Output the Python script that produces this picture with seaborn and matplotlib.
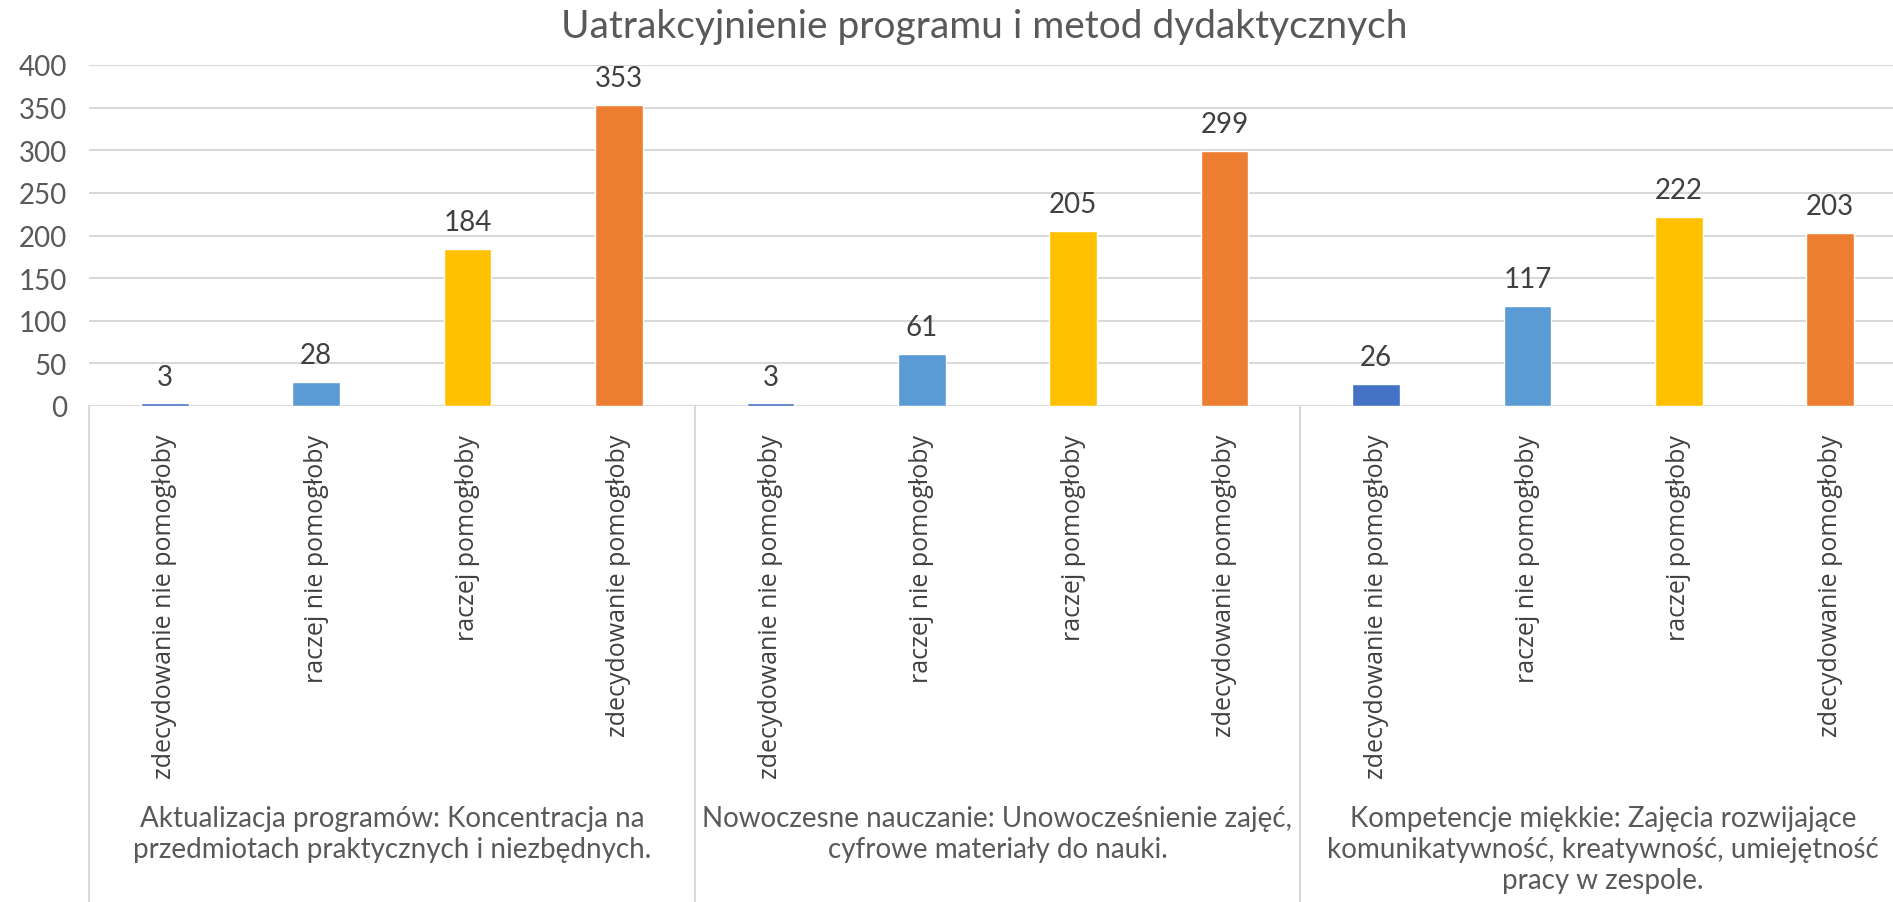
import matplotlib
matplotlib.use("Agg")
import matplotlib.pyplot as plt
import matplotlib.transforms as mtransforms
import seaborn as sns
import pandas as pd

# data
groups = [
    "Aktualizacja programów: Koncentracja na\nprzedmiotach praktycznych i niezbędnych.",
    "Nowoczesne nauczanie: Unowocześnienie zajęć,\ncyfrowe materiały do nauki.",
    "Kompetencje miękkie: Zajęcia rozwijające\nkomunikatywność, kreatywność, umiejętność\npracy w zespole.",
]
answers = ["zdecydowanie nie pomogłoby", "raczej nie pomogłoby",
           "raczej pomogłoby", "zdecydowanie pomogłoby"]
values_g1 = [3, 28, 184, 353]
values_g2 = [3, 61, 205, 299]
values_g3 = [26, 117, 222, 203]
colors = ["#4472C4", "#5B9BD5", "#FFC000", "#ED7D31"]

rows = []
for gi, vals in enumerate([values_g1, values_g2, values_g3]):
    for ai, v in enumerate(vals):
        rows.append({"pos": gi * 4 + ai, "answer": answers[ai], "value": v})
df = pd.DataFrame(rows)

sns.set_theme(style="white")
plt.rcParams["font.family"] = ["Lato", "DejaVu Sans"]

W, H = 1893, 903
left, right, top, base = 89, 1906, 66, 407
fig = plt.figure(figsize=(W / 100, H / 100), dpi=100)
ax = fig.add_axes([left / W, 1 - base / H, (right - left) / W, (base - top) / H])

sns.barplot(data=df, x="pos", y="value", hue="answer", hue_order=answers,
            palette=dict(zip(answers, colors)), dodge=False, width=0.315,
            legend=False, ax=ax, saturation=1)

for c in ax.containers:
    ax.bar_label(c, padding=10, fontsize=20, color="#404040")

ax.set_ylim(0, 400)
ax.set_yticks(range(0, 401, 50))
ax.set_xlim(-0.5, 11.5)
ax.yaxis.grid(True, color="#D9D9D9", lw=1.5)
ax.set_axisbelow(True)
for s in ax.spines.values():
    s.set_visible(False)
ax.axhline(0, color="#D9D9D9", lw=1.5, zorder=0.5)
ax.tick_params(axis="y", labelsize=20, labelcolor="#595959", length=0, pad=16)
ax.set_xticks(range(12))
ax.set_xticklabels(answers * 3, rotation=90, va="top", ha="center",
                   fontsize=18, color="#404040", family=["Open Sans", "DejaVu Sans"])
ax.tick_params(axis="x", length=0, pad=20)
ax.set_xlabel("")
ax.set_ylabel("")

# group separators and group labels below the axis
trans = mtransforms.blended_transform_factory(ax.transData, ax.transAxes)
span = base - top
for b in [-0.5, 3.5, 7.5, 11.5]:
    ax.plot([b, b], [0, -(H - base) / span], transform=trans, color="#D9D9D9",
            lw=1.5, clip_on=False)
for gi, g in enumerate(groups):
    ax.text(gi * 4 + 1.5, -(806 - base) / span, g, transform=trans,
            ha="center", va="top", fontsize=20, color="#595959",
            linespacing=1.25)

fig.text(984 / W, 1 - 27 / H, "Uatrakcyjnienie programu i metod dydaktycznych",
         ha="center", va="center", fontsize=28, color="#595959")

fig.savefig("out.png", dpi=100)
